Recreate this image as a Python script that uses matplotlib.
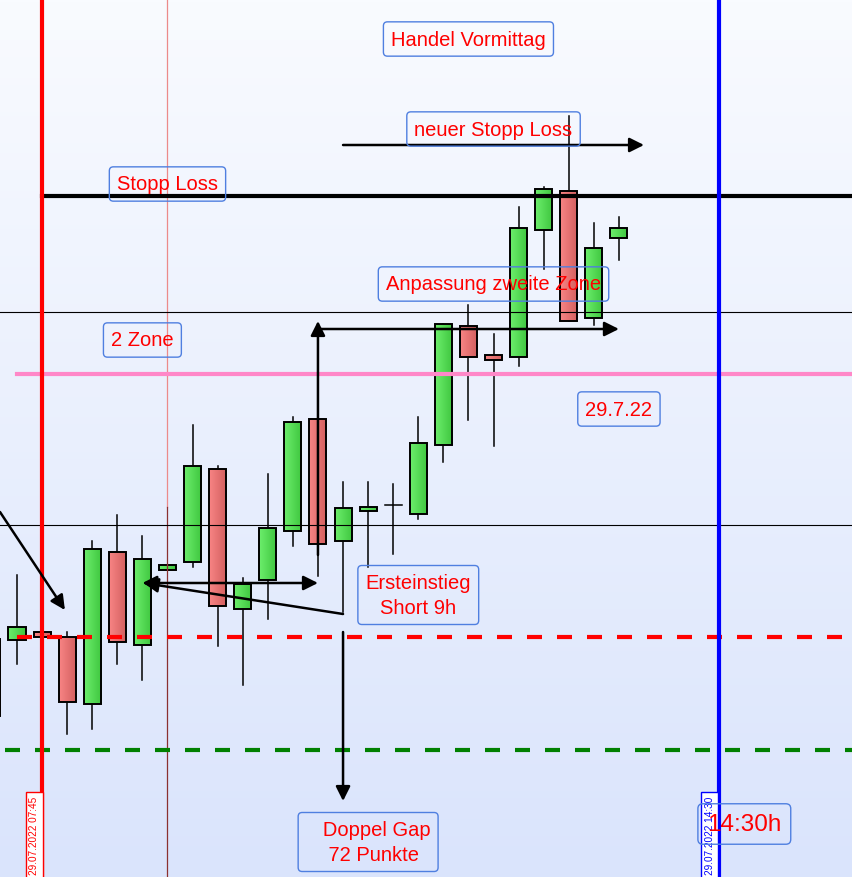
import numpy as np
import matplotlib
matplotlib.use('Agg')
import matplotlib.pyplot as plt
from matplotlib.patches import Rectangle
from matplotlib.colors import LinearSegmentedColormap

plt.rcParams['font.family'] = ['Liberation Sans', 'DejaVu Sans']

# 15-minute candles, index 1 = 07:45, index 28 = 14:30
idx    = [-1, 0, 1, 2, 3, 4, 5, 6, 7, 8, 9, 10, 11, 12, 13, 14, 15, 16, 17, 18, 19, 20, 21, 22, 23, 24]
opens  = [238, 237, 245, 240, 173, 325, 232, 307, 315, 408, 268, 297, 346, 458, 336, 366, 372, 363, 432, 551, 522, 520, 647, 686, 559, 639]
highs  = [238, 302, 245, 245, 336, 362, 341, 312, 452, 411, 299, 403, 460, 458, 395, 395, 393, 460, 553, 572, 543, 670, 690, 761, 654, 660]
lows   = [161, 213, 240, 143, 148, 213, 197, 307, 310, 231, 192, 258, 331, 301, 265, 310, 323, 358, 415, 457, 431, 511, 608, 556, 552, 617]
closes = [161, 250, 240, 175, 328, 235, 318, 312, 411, 271, 293, 349, 455, 333, 369, 370, 372, 434, 553, 520, 517, 649, 688, 556, 629, 649]

# horizontal levels
stop_loss = 681
zone_hi = 565
zone_pink = 503
zone_lo = 352
red_dash = 240
green_dash = 127

# vertical markers (candle index)
start_idx = 1      # 07:45
entry_idx = 6      # 09:00
end_idx = 28       # 14:30

W, H = 853, 878
fig = plt.figure(figsize=(W / 100, H / 100), dpi=100)
ax = fig.add_axes([0, 0, 1, 1])
x0, x1 = -17 / 25.08, (W - 17) / 25.08
ax.set_xlim(x0, x1)
ax.set_ylim(0, H)
ax.axis('off')

# background gradient
bg = LinearSegmentedColormap.from_list('bg', ['#dae4fc', '#f9fbff'])
ax.imshow(np.linspace(0, 1, 256).reshape(-1, 1), cmap=bg, aspect='auto',
          extent=(x0, x1, 0, H), origin='lower', zorder=0)

gcm = LinearSegmentedColormap.from_list('g', ['#6cee6c', '#3fc63f'])
rcm = LinearSegmentedColormap.from_list('r', ['#f88484', '#d25f5f'])
grad = np.linspace(0, 1, 32).reshape(1, -1)
bw = 0.68

for i, o, h, l, c in zip(idx, opens, highs, lows, closes):
    ax.plot([i, i], [l, h], color='black', lw=1.1, zorder=2)
    lo_b, hi_b = min(o, c), max(o, c)
    if hi_b == lo_b:
        # doji: just a tick
        ax.plot([i - bw / 2, i + bw / 2], [o, o], color='black', lw=1.1, zorder=4)
        continue
    cm = gcm if c > o else rcm
    ax.imshow(grad, cmap=cm, aspect='auto', interpolation='bilinear',
              extent=(i - bw / 2, i + bw / 2, lo_b, hi_b), zorder=3)
    ax.add_patch(Rectangle((i - bw / 2, lo_b), bw, hi_b - lo_b, fill=False,
                           edgecolor='black', lw=1.4, zorder=4))

ax.set_xlim(x0, x1)
ax.set_ylim(0, H)

# lines
ax.plot([start_idx, x1], [stop_loss] * 2, color='black', lw=3, zorder=6)
ax.axhline(zone_hi, color='black', lw=0.8, zorder=6)
ax.axhline(zone_lo, color='black', lw=0.8, zorder=6)
ax.plot([0, x1], [zone_pink] * 2, color='#ff88c8', lw=3, zorder=6)
ax.plot([0, x1], [red_dash] * 2, color='#ff0000', lw=3, ls=(0, (3.6, 3.6)), zorder=6)
ax.plot([-0.48, x1], [green_dash] * 2, color='#008000', lw=3, ls=(0, (3.6, 3.6)), zorder=6)

ax.axvline(start_idx, color='#ff0000', lw=3, zorder=7)
ax.axvline(end_idx, color='#0000ff', lw=3, zorder=7)
ax.plot([entry_idx, entry_idx], [370, H], color='#ec8a8a', lw=0.9, zorder=5)
ax.plot([entry_idx, entry_idx], [0, 370], color='#8b3030', lw=0.9, zorder=5)

# arrows
aprops = dict(arrowstyle='-|>,head_length=0.62,head_width=0.31', mutation_scale=14,
              color='black', lw=1.8, shrinkA=0, shrinkB=0)
dprops = dict(aprops, arrowstyle='<|-|>,head_length=0.62,head_width=0.31')

def arrow(p_from, p_to, props=aprops):
    ax.annotate('', xy=p_to, xytext=p_from, arrowprops=props, zorder=8)

arrow((x0, 365), (1.91, 267))
arrow((5.0, 294), (12.0, 294), dprops)
arrow((13.0, 263), (5.05, 294))
arrow((12.0, 322), (12.0, 556))
arrow((12.0, 548), (24.0, 548))
arrow((13.0, 245), (13.0, 76))
arrow((13.0, 732), (25.0, 732))

# annotation boxes
box = dict(boxstyle='round,pad=0.38,rounding_size=0.2', facecolor='none',
           edgecolor='#4f7fe0', lw=1)
labels = [
    ('Handel Vormittag', 18.0, 838),
    ('neuer Stopp Loss', 19.0, 748),
    ('Stopp Loss', 6.0, 693),
    ('Anpassung zweite Zone', 19.0, 593),
    ('2 Zone', 5.0, 537),
    ('29.7.22', 24.0, 468),
    ('Ersteinstieg\nShort 9h', 16.0, 282),
]
for txt, xx, yy in labels:
    ax.text(xx, yy, txt, color='#ff0000', fontsize=14.5, ha='center', va='center',
            multialignment='center', bbox=box, zorder=9, linespacing=1.38)

ax.text(14.0, 35, '   Doppel Gap\n    72 Punkte  ', color='#ff0000', fontsize=14.5,
        ha='center', va='center', multialignment='left', bbox=box, zorder=9,
        linespacing=1.38)
ax.text(29.0, 53, '14:30h', color='#ff0000', fontsize=17.5, ha='center', va='center',
        bbox=dict(box, pad=0.2), zorder=9)

# time stamps on vertical lines
ax.text(0.68, 3, '29.07.2022 07:45', rotation=90, color='#ff0000', fontsize=7.2,
        ha='center', va='bottom', zorder=8,
        bbox=dict(boxstyle='square,pad=0.35', facecolor='white', edgecolor='#ff0000', lw=1))
ax.text(27.63, 3, '29.07.2022 14:30', rotation=90, color='#0000ff', fontsize=7.2,
        ha='center', va='bottom', zorder=8,
        bbox=dict(boxstyle='square,pad=0.35', facecolor='white', edgecolor='#0000ff', lw=1))

fig.savefig('out.png', dpi=100)
